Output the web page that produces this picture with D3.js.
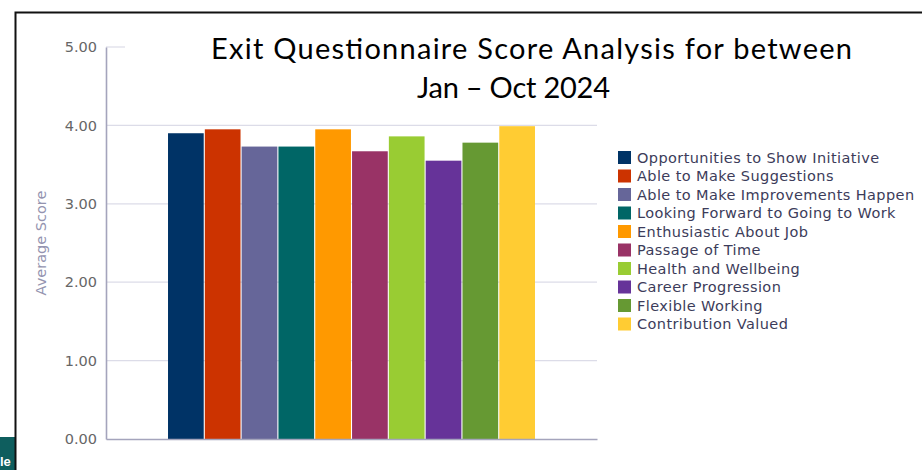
<!DOCTYPE html>
<html>
<head>
<meta charset="utf-8">
<script src="https://cdn.jsdelivr.net/npm/d3@7"></script>
<style>
  html, body { margin: 0; padding: 0; background: #fff; }
  svg { display: block; }
</style>
</head>
<body>
<svg id="chart" width="922" height="470"></svg>
<script>
// Survey measures, one bar each
const measures = [
  "Opportunities to Show Initiative",
  "Able to Make Suggestions",
  "Able to Make Improvements Happen",
  "Looking Forward to Going to Work",
  "Enthusiastic About Job",
  "Passage of Time",
  "Health and Wellbeing",
  "Career Progression",
  "Flexible Working",
  "Contribution Valued"
];
// Average score per measure
const scores = [3.90, 3.95, 3.73, 3.73, 3.95, 3.67, 3.86, 3.55, 3.78, 3.99];
const colors = ["#003366", "#cc3300", "#666699", "#006666", "#ff9900",
                "#993366", "#99cc33", "#663399", "#669933", "#ffcc33"];
const yTicks = [0, 1, 2, 3, 4, 5];
const titleLines = ["Exit Questionnaire Score Analysis for between", "Jan \u2013 Oct 2024"];
const yAxisTitle = "Average Score";

const svg = d3.select("#chart");

// Slide frame and corner badge
svg.append("rect").attr("x", 0).attr("y", 437).attr("width", 15).attr("height", 33)
  .attr("fill", "#0e5e5e");
svg.append("text").attr("x", 0).attr("y", 466)
  .attr("font-family", "Liberation Sans, Arial, sans-serif").attr("font-size", 13)
  .attr("font-weight", "bold").attr("fill", "#fff").text("le");
svg.append("path").attr("d", "M15.5,470 V12.5 H922")
  .attr("fill", "none").attr("stroke", "#111").attr("stroke-width", 2);

const plot = { left: 106, right: 597, top: 47, bottom: 439 };

const y = d3.scaleLinear().domain([0, 5]).range([plot.bottom, plot.top]);

const group = d3.scaleBand().domain(["all"]).range([plot.left, plot.right])
  .paddingInner(0).paddingOuter(0.169);
const x = d3.scaleBand().domain(measures)
  .range([group("all"), group("all") + group.bandwidth()])
  .paddingInner(0.03).paddingOuter(0);

// Gridlines (the top value only gets a short tick)
const grid = svg.append("g");
grid.selectAll("line").data(yTicks.filter(t => t > 0))
  .join("line")
  .attr("x1", plot.left)
  .attr("x2", t => t === 5 ? plot.left + 19 : plot.right)
  .attr("y1", t => y(t)).attr("y2", t => y(t))
  .attr("stroke", "#dcdce8").attr("stroke-width", 1.2);

// Bars
svg.append("g").selectAll("rect").data(measures)
  .join("rect")
  .attr("x", d => x(d))
  .attr("width", x.bandwidth())
  .attr("y", (d, i) => y(scores[i]))
  .attr("height", (d, i) => y(0) - y(scores[i]))
  .attr("fill", (d, i) => colors[i]);

// Axes
const yAxis = d3.axisLeft(y).tickValues(yTicks).tickFormat(d3.format(".2f"))
  .tickSize(0).tickPadding(9);
const gy = svg.append("g").attr("transform", `translate(${plot.left},0)`).call(yAxis);
gy.select(".domain").attr("stroke", "#a4a4bc").attr("stroke-width", 1.6);
gy.selectAll("text").attr("font-family", "DejaVu Sans, sans-serif")
  .attr("font-size", 14.5).attr("fill", "#666");

const xAxis = d3.axisBottom(group).tickSize(0).tickFormat("");
const gx = svg.append("g").attr("transform", `translate(0,${plot.bottom})`).call(xAxis);
gx.select(".domain").attr("stroke", "#a4a4bc").attr("stroke-width", 1.6);

svg.append("text")
  .attr("transform", `translate(46,${(plot.top + plot.bottom) / 2}) rotate(-90)`)
  .attr("text-anchor", "middle")
  .attr("font-family", "DejaVu Sans, sans-serif").attr("font-size", 14.5)
  .attr("fill", "#9494b0").text(yAxisTitle);

// Title
const title = svg.append("g").attr("font-family", "Lato, Open Sans, sans-serif")
  .attr("font-size", 29).attr("font-weight", 400).attr("fill", "#000");
title.append("text").attr("x", 211).attr("y", 59)
  .attr("textLength", 641).attr("lengthAdjust", "spacing").text(titleLines[0]);
title.append("text").attr("x", 417).attr("y", 98)
  .attr("textLength", 193).attr("lengthAdjust", "spacing").text(titleLines[1]);

// Legend
const legend = svg.append("g").attr("transform", "translate(618,151)");
const rows = legend.selectAll("g").data(measures).join("g")
  .attr("transform", (d, i) => `translate(0,${i * 18.5})`);
rows.append("rect").attr("width", 13).attr("height", 13)
  .attr("fill", (d, i) => colors[i]);
rows.append("text").attr("x", 19).attr("y", 11.5)
  .attr("font-family", "DejaVu Sans, sans-serif").attr("font-size", 14.5)
  .attr("letter-spacing", 0.4)
  .attr("fill", "#3c3c5a").text(d => d);
</script>
</body>
</html>
